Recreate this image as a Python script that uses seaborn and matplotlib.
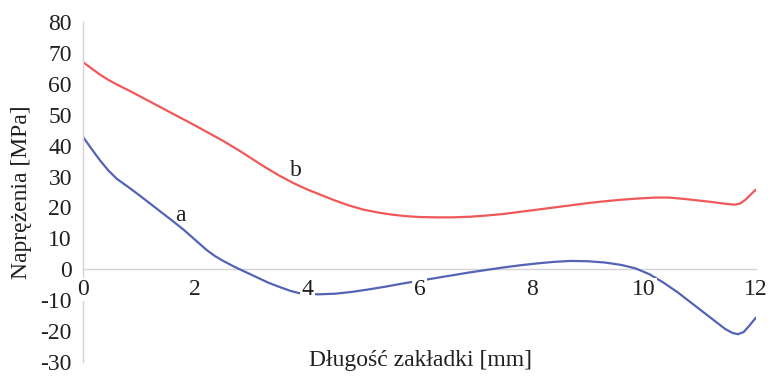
import matplotlib
matplotlib.use("Agg")
import matplotlib.pyplot as plt
import seaborn as sns
import pandas as pd

# Stress along the lap length for two joint variants
x_a = [0.0, 0.15, 0.3, 0.45, 0.6, 0.8, 1.0, 1.2, 1.4, 1.6, 1.8, 2.0, 2.2, 2.35, 2.5, 2.7, 2.9,
       3.1, 3.3, 3.5, 3.7, 3.85, 4.0, 4.2, 4.5, 4.8, 5.1, 5.4, 5.7, 6.0, 6.3, 6.6, 6.9, 7.2, 7.5,
       7.8, 8.1, 8.4, 8.7, 9.0, 9.3, 9.6, 9.85, 10.1, 10.35, 10.6, 10.85, 11.1, 11.3, 11.45,
       11.58, 11.68, 11.78, 11.88, 12.0]
y_a = [42.8, 39.0, 35.3, 32.0, 29.3, 26.7, 24.0, 21.2, 18.4, 15.6, 12.7, 9.5, 6.3, 4.3, 2.7, 0.8,
       -0.9, -2.6, -4.3, -5.7, -7.0, -7.7, -8.0, -8.1, -7.9, -7.3, -6.5, -5.6, -4.6, -3.7, -2.8,
       -1.9, -1.0, -0.2, 0.6, 1.3, 1.9, 2.4, 2.7, 2.6, 2.2, 1.4, 0.3, -1.6, -4.3, -7.4, -10.9,
       -14.4, -17.2, -19.3, -20.6, -21.0, -20.3, -18.3, -15.6]

x_b = [0.0, 0.15, 0.3, 0.45, 0.6, 0.8, 1.0, 1.25, 1.5, 1.75, 2.0, 2.25, 2.5, 2.75, 3.0, 3.25,
       3.5, 3.75, 4.0, 4.25, 4.5, 4.75, 5.0, 5.25, 5.5, 5.75, 6.0, 6.3, 6.6, 6.9, 7.2, 7.5, 7.8,
       8.1, 8.4, 8.7, 9.0, 9.3, 9.6, 9.9, 10.2, 10.45, 10.7, 10.95, 11.2, 11.45, 11.62, 11.72,
       11.82, 11.92, 12.0]
y_b = [67.0, 65.0, 63.0, 61.3, 59.8, 58.0, 56.1, 53.7, 51.3, 48.9, 46.5, 44.0, 41.5, 38.8, 35.9,
       33.0, 30.3, 27.9, 25.8, 24.0, 22.2, 20.6, 19.3, 18.4, 17.7, 17.2, 16.9, 16.8, 16.8, 17.0,
       17.4, 17.9, 18.6, 19.3, 20.0, 20.7, 21.4, 22.0, 22.5, 22.9, 23.2, 23.2, 22.8, 22.3, 21.8,
       21.2, 20.9, 21.3, 22.6, 24.4, 25.8]

x_ticks = [0, 2, 4, 6, 8, 10, 12]
y_ticks = [-30, -20, -10, 0, 10, 20, 30, 40, 50, 60, 70, 80]

color_a = "#5563b5"
color_b = "#f0585a"
axis_gray = "#d4d4d4"
text_color = "#231f20"
fs = 17

sns.set_theme(style="white")
plt.rcParams["font.family"] = ["Liberation Serif", "DejaVu Serif"]

fig = plt.figure(figsize=(7.71, 3.76), dpi=100)
ax = fig.add_axes([0.1077, 0.0372, 0.8728, 0.9043])

df_a = pd.DataFrame({"x": x_a, "y": y_a})
df_b = pd.DataFrame({"x": x_b, "y": y_b})
sns.lineplot(data=df_b, x="x", y="y", ax=ax, color=color_b, linewidth=1.6, sort=False, zorder=2)
sns.lineplot(data=df_a, x="x", y="y", ax=ax, color=color_a, linewidth=1.6, sort=False, zorder=2)

ax.set_xlim(0, 12)
ax.set_ylim(-30, 80)
ax.set_xticks(x_ticks)
ax.set_yticks(y_ticks)
ax.set_xticklabels([str(v) for v in x_ticks])
ax.set_yticklabels([str(v) for v in y_ticks])

for side in ("top", "right"):
    ax.spines[side].set_visible(False)
ax.spines["left"].set_color(axis_gray)
ax.spines["bottom"].set_color(axis_gray)
ax.spines["left"].set_linewidth(1.0)
ax.spines["bottom"].set_linewidth(1.0)
ax.spines["bottom"].set_position(("data", 0))
ax.spines["bottom"].set_zorder(1)

ax.tick_params(axis="y", direction="out", length=5, width=1, color=axis_gray,
               labelsize=fs, labelcolor=text_color, pad=3)
ax.tick_params(axis="x", direction="out", length=4, width=1, color=axis_gray,
               labelsize=fs, labelcolor=text_color, pad=3)
for lab in ax.get_xticklabels():
    lab.set_bbox(dict(facecolor="white", edgecolor="none", pad=1.0))
    lab.set_zorder(5)
ax.set_axisbelow(False)

ax.set_xlabel("")
ax.set_ylabel("")
fig.text(0.546, 0.0266, "Długość zakładki [mm]", ha="center", va="baseline",
         fontsize=fs, color=text_color)
fig.text(0.0285, 0.489, "Naprężenia [MPa]", ha="center", va="center",
         rotation=90, fontsize=fs, color=text_color)

ax.text(1.73, 17.5, "a", fontsize=fs, color=text_color, ha="center", va="center")
ax.text(3.8, 32.0, "b", fontsize=fs, color=text_color, ha="center", va="center")

fig.savefig("out.png", dpi=100, facecolor="white")
